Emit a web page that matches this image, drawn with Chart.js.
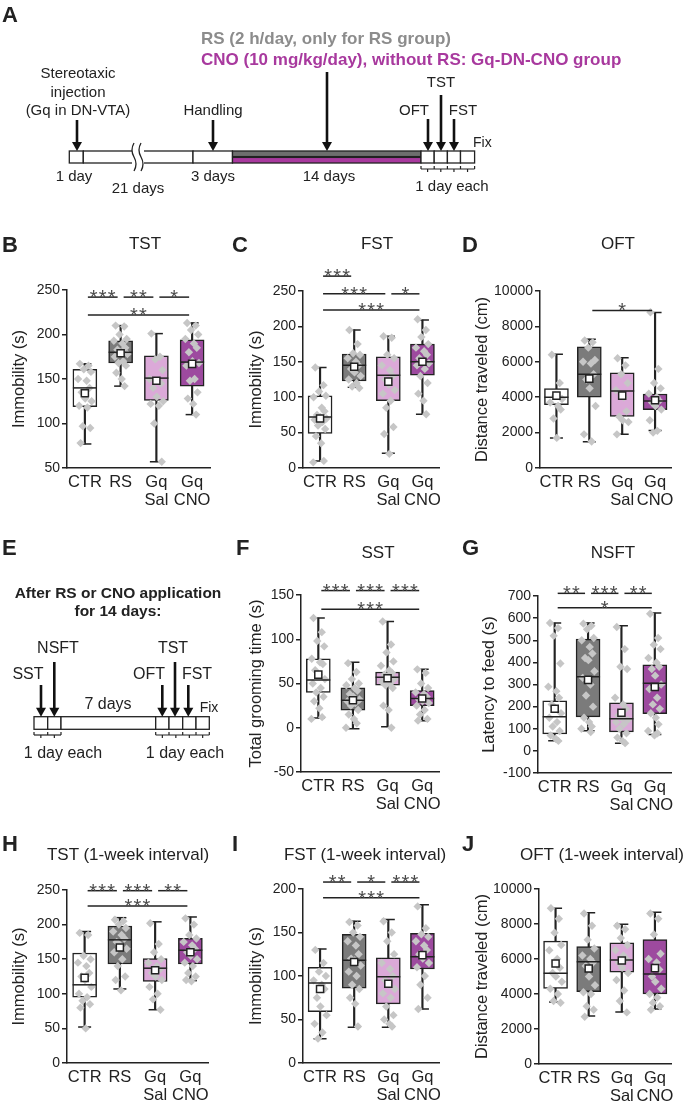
<!DOCTYPE html>
<html>
<head>
<meta charset="utf-8">
<script src="https://cdn.jsdelivr.net/npm/chart.js@4.4.1/dist/chart.umd.min.js"></script>
<style>
  body { margin: 0; background: #fff; }
  #page { position: relative; width: 685px; height: 1107px; overflow: hidden; background: #fff; }
  #page canvas { position: absolute; }
  #sch { position: absolute; left: 0; top: 0; pointer-events: none; }
</style>
</head>
<body>
<div id="page"></div>
<script>
// ---- data ----
const groups = ['CTR', 'RS', ['Gq', 'Sal'], ['Gq', 'CNO']];

// B: TST
const tstMin = [77, 142, 57, 110];
const tstQ1 = [119, 168, 126, 142];
const tstMed = [140, 180, 151, 169];
const tstQ3 = [161, 193, 176, 194];
const tstMax = [167, 210, 201, 213];
const tstMean = [134, 179, 148, 167];
const tstPts = [
  [167, 165, 161, 158, 150, 148, 140, 135, 128, 125, 120, 118, 97, 95, 78],
  [210, 209, 200, 195, 193, 190, 185, 183, 180, 178, 175, 170, 168, 165, 157, 150, 142],
  [201, 175, 172, 160, 150, 148, 145, 140, 130, 125, 122, 120, 100, 57],
  [213, 210, 205, 200, 195, 190, 185, 180, 170, 168, 165, 150, 148, 135, 128, 122, 110],
];
const tstSig = [[0, 1, 242, '***'], [1, 2, 242, '**'], [2, 3, 242, '*'], [0, 3, 222, '**']];

// C: FST
const fstMin = [10, 114, 21, 76];
const fstQ1 = [49, 123, 95, 131];
const fstMed = [72, 145, 131, 150];
const fstQ3 = [102, 161, 157, 175];
const fstMax = [142, 195, 186, 209];
const fstMean = [70, 143, 122, 150];
const fstPts = [
  [142, 117, 108, 102, 100, 85, 80, 75, 72, 70, 68, 65, 60, 55, 45, 35, 10, 8],
  [195, 175, 162, 160, 155, 150, 145, 140, 135, 130, 125, 120, 115, 113],
  [186, 184, 160, 155, 145, 138, 130, 125, 118, 110, 105, 95, 85, 58, 48, 20],
  [210, 195, 185, 175, 170, 165, 160, 155, 150, 148, 145, 140, 130, 120, 105, 95, 76],
];
const fstSig = [[0, 1, 271, '***'], [0, 2, 246, '***'], [2, 3, 246, '*'], [0, 3, 223, '***']];

// D: OFT
const oftMin = [1690, 1480, 1910, 2120];
const oftQ1 = [3580, 4000, 2910, 3300];
const oftMed = [4000, 5290, 4350, 3790];
const oftQ3 = [4480, 6850, 5370, 4180];
const oftMax = [6420, 7280, 6230, 8780];
const oftMean = [4090, 5050, 4090, 3830];
const oftPts = [
  [6400, 4800, 4100, 3900, 3700, 3500, 3300, 2800, 1700],
  [7200, 7100, 6800, 6100, 6000, 5900, 5300, 5000, 4500, 3500, 1900, 1500],
  [6200, 5800, 5300, 4800, 4400, 4000, 3200, 2900, 2700, 2600, 1900],
  [8800, 5600, 4800, 4500, 4200, 4000, 3800, 3700, 3500, 3300, 2700, 2100, 2000],
];
const oftSig = [[1, 3, 8900, '*']];

// F: SST
const sstMin = [11, -1, 1, 8];
const sstQ1 = [40, 20, 48, 25];
const sstMed = [54, 31, 57, 33];
const sstQ3 = [78, 45, 63, 42];
const sstMax = [124, 74, 120, 66];
const sstMean = [60, 31, 56, 33];
const sstPts = [
  [124, 108, 98, 92, 78, 74, 72, 65, 60, 55, 50, 45, 40, 35, 30, 22, 12, 10],
  [73, 63, 55, 50, 48, 45, 42, 38, 35, 32, 30, 28, 25, 20, 15, 10, 5, 0],
  [120, 94, 85, 75, 70, 65, 62, 60, 58, 55, 52, 50, 48, 45, 25, 20, 0],
  [66, 62, 50, 45, 40, 38, 35, 32, 30, 28, 25, 20, 15, 10, 8],
];
const sstSig = [[0, 1, 155, '***'], [1, 2, 155, '***'], [2, 3, 155, '***'], [0, 3, 134, '***']];

// G: NSFT
const nsftMin = [46, 91, 35, 74];
const nsftQ1 = [77, 154, 86, 168];
const nsftMed = [154, 335, 145, 306];
const nsftQ3 = [226, 505, 217, 389];
const nsftMax = [578, 578, 566, 623];
const nsftMean = [190, 321, 172, 289];
const nsftPts = [
  [578, 555, 520, 395, 290, 270, 240, 210, 195, 170, 150, 130, 110, 90, 70, 55, 45],
  [575, 565, 550, 510, 500, 470, 440, 420, 410, 360, 330, 300, 250, 200, 150, 130, 110, 100, 85],
  [560, 460, 380, 370, 240, 210, 190, 160, 150, 140, 130, 120, 100, 80, 60, 45, 35],
  [620, 510, 480, 460, 420, 400, 380, 370, 340, 300, 280, 240, 210, 190, 170, 150, 120, 90, 80, 70],
];
const nsftSig = [[0, 1, 712, '**'], [1, 2, 712, '***'], [2, 3, 712, '**'], [0, 3, 647, '*']];

// H: TST (1-week interval)
const tst2Min = [52, 107, 77, 119];
const tst2Q1 = [95, 143, 118, 143];
const tst2Med = [113, 178, 137, 163];
const tst2Q3 = [159, 198, 151, 180];
const tst2Max = [190, 210, 204, 211];
const tst2Mean = [123, 167, 134, 160];
const tst2Pts = [
  [188, 185, 155, 150, 145, 140, 130, 125, 120, 110, 100, 95, 90, 85, 80, 50],
  [207, 205, 200, 195, 190, 185, 180, 175, 170, 165, 160, 150, 140, 125, 120, 105],
  [202, 172, 160, 150, 145, 140, 135, 130, 125, 120, 110, 100, 92, 77],
  [209, 200, 185, 180, 175, 170, 165, 160, 155, 150, 145, 140, 130, 125, 120, 118],
];
const tst2Sig = [[0, 1, 249, '***'], [1, 2, 249, '***'], [2, 3, 249, '**'], [0, 3, 227, '***']];

// I: FST (1-week interval)
const fst2Min = [28, 41, 41, 62];
const fst2Q1 = [59, 86, 68, 108];
const fst2Med = [92, 118, 99, 122];
const fst2Q3 = [110, 148, 121, 149];
const fst2Max = [131, 163, 165, 182];
const fst2Mean = [85, 116, 91, 124];
const fst2Pts = [
  [130, 115, 105, 100, 95, 90, 85, 75, 65, 55, 45, 35, 28],
  [162, 158, 150, 145, 140, 135, 125, 120, 118, 112, 105, 100, 90, 85, 75, 68, 42],
  [163, 150, 140, 125, 115, 108, 100, 95, 90, 85, 80, 75, 65, 55, 50, 45, 42],
  [180, 155, 148, 145, 140, 135, 130, 125, 120, 115, 110, 100, 90, 75, 62],
];
const fst2Sig = [[0, 1, 208, '**'], [1, 2, 208, '*'], [2, 3, 208, '***'], [0, 3, 190, '***']];

// J: OFT (1-week interval)
const oft2Min = [3550, 2740, 2970, 3140];
const oft2Q1 = [4320, 4140, 5250, 4010];
const oft2Med = [5190, 5840, 5950, 5150];
const oft2Q3 = [7020, 6710, 6920, 7110];
const oft2Max = [8900, 8650, 7980, 8670];
const oft2Mean = [5740, 5460, 5910, 5480];
const oft2Pts = [
  [8900, 8300, 7500, 6800, 6500, 6000, 5500, 5200, 5000, 4700, 4300, 4000, 3600, 3500],
  [8600, 7900, 7100, 6600, 6200, 6000, 5800, 5600, 5000, 4500, 4100, 4000, 3300, 3100, 2700],
  [7900, 7700, 7200, 6800, 6500, 6200, 6000, 5800, 5500, 5200, 4800, 4200, 3600, 2950],
  [8600, 8300, 7400, 6300, 6000, 5800, 5400, 5000, 4700, 4300, 4000, 3800, 3500, 3300, 3100],
];
const oft2Sig = [];

// ---- styling ----
const FONT = "'Liberation Sans', Arial, sans-serif";
const INK = '#222';
const boxColors = ['#ffffff', '#7b7b7b', '#dba9d8', '#9d4a9f'];
// horizontal spread of the dots around each box (fraction of a category)
const JIT = [-0.14, 0.1, -0.03, 0.17, -0.19, 0.05, 0.13, -0.09, 0.01, 0.19, -0.16, 0.07, -0.06, 0.15, -0.12, 0.03, 0.11, -0.2, 0.08, -0.01];

Chart.defaults.font.family = FONT;
Chart.defaults.color = INK;

const page = document.getElementById('page');

// significance bars + stars, placed with the chart's own scales
const sigPlugin = {
  id: 'sig',
  afterDraw(chart, args, opts) {
    const { ctx, scales: { x, y } } = chart;
    ctx.save();
    ctx.strokeStyle = INK;
    ctx.lineWidth = 1.5;
    ctx.fillStyle = '#4a4a4a';
    ctx.font = '20px ' + FONT;
    ctx.textAlign = 'center';
    ctx.textBaseline = 'alphabetic';
    (opts.marks || []).forEach(([a, b, lvl, stars]) => {
      const x1 = x.getPixelForValue(a) + 3;
      const x2 = x.getPixelForValue(b) - 3;
      const yy = y.getPixelForValue(lvl);
      ctx.beginPath();
      ctx.moveTo(x1, yy);
      ctx.lineTo(x2, yy);
      ctx.stroke();
      const cx = (x1 + x2) / 2;
      for (let i = 0; i < stars.length; i++) {
        ctx.fillText('*', cx + (i - (stars.length - 1) / 2) * 9, yy + 7);
      }
    });
    ctx.restore();
  },
};

const boxChart = (c) => {
  const [L0, T0, W, H] = c.box;
  const [aL, aT, aR, aB] = c.area;
  const cv = document.createElement('canvas');
  cv.width = W;
  cv.height = H;
  cv.style.left = L0 + 'px';
  cv.style.top = T0 + 'px';
  page.appendChild(cv);

  const at = (arr) => arr.map((v, g) => ({ x: g, y: v }));
  const dots = [];
  c.pts.forEach((arr, g) => arr.forEach((v, k) => dots.push({ x: g + JIT[k % JIT.length], y: v })));

  new Chart(cv, {
    type: 'bar',
    data: {
      datasets: [
        {
          // whisker stem
          type: 'bar',
          data: c.min.map((v, g) => ({ x: g, y: [v, c.max[g]] })),
          backgroundColor: INK,
          barThickness: 1.5,
          grouped: false,
          order: 6,
        },
        {
          // whisker caps
          type: 'scatter',
          data: [...at(c.min), ...at(c.max)],
          pointStyle: 'line',
          pointRadius: 6.5,
          pointBorderColor: INK,
          pointBorderWidth: 1.5,
          order: 5,
        },
        {
          // boxes
          type: 'bar',
          data: c.q1.map((v, g) => ({ x: g, y: [v, c.q3[g]] })),
          backgroundColor: boxColors,
          borderColor: INK,
          borderWidth: 1.5,
          borderSkipped: false,
          barThickness: 24,
          grouped: false,
          order: 4,
        },
        {
          // individual animals
          type: 'scatter',
          data: dots,
          pointStyle: 'rectRot',
          pointRadius: 4.2,
          pointBackgroundColor: '#c6c6c6',
          pointBorderWidth: 0,
          order: 3,
        },
        {
          // median
          type: 'scatter',
          data: at(c.med),
          pointStyle: 'line',
          pointRadius: 12,
          pointBorderColor: INK,
          pointBorderWidth: 1.5,
          order: 2,
        },
        {
          // mean
          type: 'scatter',
          data: at(c.mean),
          pointStyle: 'rect',
          pointRadius: 5,
          pointBackgroundColor: '#fff',
          pointBorderColor: INK,
          pointBorderWidth: 1.5,
          order: 1,
        },
      ],
    },
    options: {
      responsive: false,
      animation: false,
      events: [],
      layout: { padding: { top: aT - T0, right: L0 + W - aR, left: 0, bottom: 0 } },
      plugins: {
        legend: { display: false },
        tooltip: { enabled: false },
        sig: { marks: c.sig },
      },
      scales: {
        x: {
          type: 'linear',
          min: -0.5,
          max: 3.5,
          offset: false,
          grid: { display: false, drawTicks: false },
          border: { color: INK, width: 1.5 },
          afterBuildTicks: (s) => {
            s.ticks = groups.map((g, i) => ({ value: i }));
          },
          afterFit: (s) => {
            s.height = T0 + H - aB;
          },
          ticks: {
            callback: (v) => groups[v],
            font: { size: 16.5, lineHeight: 1.1 },
            color: INK,
            padding: 5,
            maxRotation: 0,
            autoSkip: false,
          },
        },
        y: {
          min: c.yMin,
          max: c.yMax,
          grid: { drawOnChartArea: false, tickLength: 5, color: INK, lineWidth: 1.5 },
          border: { color: INK, width: 1.5 },
          ticks: {
            stepSize: c.step,
            callback: (v) => String(v),
            font: { size: 14 },
            color: INK,
            padding: 2,
          },
          title: {
            display: true,
            text: c.yTitle,
            font: { size: 16.5 },
            color: INK,
            padding: { top: c.titleX - L0 - 9.9, bottom: 0 },
          },
          afterFit: (s) => {
            s.width = aL - L0;
          },
        },
      },
    },
    plugins: [sigPlugin],
  });
};

// ---- box plots ----
boxChart({ box: [0, 250, 225, 258], area: [67, 290, 210, 468], titleX: 19,
  yMin: 50, yMax: 250, step: 50, yTitle: 'Immobility (s)',
  min: tstMin, q1: tstQ1, med: tstMed, q3: tstQ3, max: tstMax, mean: tstMean, pts: tstPts, sig: tstSig });
boxChart({ box: [228, 250, 225, 258], area: [303, 291, 445, 468], titleX: 256,
  yMin: 0, yMax: 250, step: 50, yTitle: 'Immobility (s)',
  min: fstMin, q1: fstQ1, med: fstMed, q3: fstQ3, max: fstMax, mean: fstMean, pts: fstPts, sig: fstSig });
boxChart({ box: [455, 250, 230, 258], area: [540, 291, 683, 468], titleX: 482,
  yMin: 0, yMax: 10000, step: 2000, yTitle: 'Distance traveled (cm)',
  min: oftMin, q1: oftQ1, med: oftMed, q3: oftQ3, max: oftMax, mean: oftMean, pts: oftPts, sig: oftSig });

boxChart({ box: [228, 572, 225, 248], area: [301, 595, 444, 772], titleX: 256,
  yMin: -50, yMax: 150, step: 50, yTitle: 'Total grooming time (s)',
  min: sstMin, q1: sstQ1, med: sstMed, q3: sstQ3, max: sstMax, mean: sstMean, pts: sstPts, sig: sstSig });
boxChart({ box: [455, 572, 230, 248], area: [538, 596, 683, 773], titleX: 489,
  yMin: -100, yMax: 700, step: 100, yTitle: 'Latency to feed (s)',
  min: nsftMin, q1: nsftQ1, med: nsftMed, q3: nsftQ3, max: nsftMax, mean: nsftMean, pts: nsftPts, sig: nsftSig });

boxChart({ box: [0, 865, 225, 242], area: [67, 890, 208, 1063], titleX: 19,
  yMin: 0, yMax: 250, step: 50, yTitle: 'Immobility (s)',
  min: tst2Min, q1: tst2Q1, med: tst2Med, q3: tst2Q3, max: tst2Max, mean: tst2Mean, pts: tst2Pts, sig: tst2Sig });
boxChart({ box: [228, 865, 225, 242], area: [303, 889, 445, 1063], titleX: 256,
  yMin: 0, yMax: 200, step: 50, yTitle: 'Immobility (s)',
  min: fst2Min, q1: fst2Q1, med: fst2Med, q3: fst2Q3, max: fst2Max, mean: fst2Mean, pts: fst2Pts, sig: fst2Sig });
boxChart({ box: [455, 865, 230, 242], area: [539, 889, 683, 1064], titleX: 482,
  yMin: 0, yMax: 10000, step: 2000, yTitle: 'Distance traveled (cm)',
  min: oft2Min, q1: oft2Q1, med: oft2Med, q3: oft2Q3, max: oft2Max, mean: oft2Mean, pts: oft2Pts, sig: oft2Sig });

// ---- schematics, panel letters and titles (svg) ----
const S = [];
const txt = (x, y, s, size, o = {}) => S.push(
  `<text x="${x}" y="${y}" font-size="${size}" text-anchor="${o.anchor || 'middle'}" font-weight="${o.bold ? 'bold' : 'normal'}" fill="${o.fill || INK}">${s}</text>`);
const rect = (x1, y1, x2, y2, fill) => S.push(
  `<rect x="${x1}" y="${y1}" width="${x2 - x1}" height="${y2 - y1}" fill="${fill || '#fff'}" stroke="${INK}" stroke-width="1.3"/>`);
const line = (x1, y1, x2, y2, w) => S.push(
  `<line x1="${x1}" y1="${y1}" x2="${x2}" y2="${y2}" stroke="${INK}" stroke-width="${w || 1.2}"/>`);
const arrow = (x, y1, y2) => S.push(
  `<line x1="${x}" y1="${y1}" x2="${x}" y2="${y2 - 8}" stroke="#111" stroke-width="2.6"/>` +
  `<polygon points="${x - 5},${y2 - 9} ${x + 5},${y2 - 9} ${x},${y2}" fill="#111"/>`);
const brace = (xs, y) => {
  line(xs[0], y, xs[xs.length - 1], y);
  xs.forEach((v) => line(v, y - 3, v, y));
  for (let i = 0; i < xs.length - 1; i++) line((xs[i] + xs[i + 1]) / 2, y, (xs[i] + xs[i + 1]) / 2, y + 3);
};

// panel letters
[['A', 2, 22], ['B', 2, 252], ['C', 232, 252], ['D', 462, 252], ['E', 2, 555], ['F', 236, 555],
 ['G', 462, 555], ['H', 2, 851], ['I', 232, 851], ['J', 462, 851]]
  .forEach(([s, x, y]) => txt(x, y, s, 22, { anchor: 'start', bold: true }));

// panel titles
[['TST', 145, 249], ['FST', 377, 249], ['OFT', 618, 249], ['SST', 378, 558], ['NSFT', 613, 558],
 ['TST (1-week interval)', 128, 860], ['FST (1-week interval)', 365, 860], ['OFT (1-week interval)', 602, 860]]
  .forEach(([s, x, y]) => txt(x, y, s, 17));

// A: timeline
txt(201, 44, 'RS (2 h/day, only for RS group)', 17, { anchor: 'start', bold: true, fill: '#8c8c8c' });
txt(201, 65, 'CNO (10 mg/kg/day), without RS: Gq-DN-CNO group', 17, { anchor: 'start', bold: true, fill: '#a8399e' });
txt(78, 78, 'Stereotaxic', 15);
txt(78, 97, 'injection', 15);
txt(78, 115, '(Gq in DN-VTA)', 15);
txt(213, 115, 'Handling', 15);
txt(441, 87, 'TST', 15);
txt(414, 115, 'OFT', 15);
txt(463, 115, 'FST', 15);
txt(473, 147, 'Fix', 14, { anchor: 'start' });
rect(69.3, 151, 83.3, 163);
rect(83.3, 151, 193, 163);
rect(193, 151, 232.5, 163);
rect(232.5, 151, 421, 156.6, '#6e6e6e');
rect(232.5, 157.4, 421, 163, '#a8399e');
[421, 434.2, 447.4, 460.5].forEach((v, i, a) => rect(v, 151, i < 3 ? a[i + 1] : 474.6, 163));
S.push('<rect x="132" y="148" width="12" height="18" fill="#fff"/>');
S.push(`<path d="M134 143 q -4 7 0 14 t 0 14 M141 143 q -4 7 0 14 t 0 14" fill="none" stroke="${INK}" stroke-width="1.3"/>`);
arrow(77, 120, 151);
arrow(213, 120, 151);
arrow(327, 72, 151);
arrow(428, 119, 151);
arrow(441, 95, 151);
arrow(454, 119, 151);
brace([421, 434.2, 447.4, 460.5, 474.6], 169);
txt(74, 181, '1 day', 15);
txt(138, 193, '21 days', 15);
txt(213, 181, '3 days', 15);
txt(329, 181, '14 days', 15);
txt(452, 191, '1 day each', 15);

// E: timeline
txt(118, 598, 'After RS or CNO application', 15.5, { bold: true });
txt(118, 616, 'for 14 days:', 15.5, { bold: true });
txt(58, 653, 'NSFT', 16);
txt(28, 679, 'SST', 16);
txt(108, 709, '7 days', 16);
txt(149, 679, 'OFT', 16);
txt(173, 653, 'TST', 16);
txt(197, 679, 'FST', 16);
txt(209, 712, 'Fix', 14);
rect(34, 716.7, 47.7, 729.3);
rect(47.7, 716.7, 61, 729.3);
rect(61, 716.7, 155.7, 729.3);
[155.7, 169, 182.7, 196].forEach((v, i, a) => rect(v, 716.7, i < 3 ? a[i + 1] : 209.3, 729.3));
arrow(41, 685, 716.7);
arrow(54.3, 662, 716.7);
arrow(162.3, 685, 716.7);
arrow(175, 662, 716.7);
arrow(188.3, 685, 716.7);
brace([34, 47.7, 61], 735);
brace([155.7, 169, 182.7, 196, 209.3], 735);
txt(63, 758, '1 day each', 16);
txt(185, 758, '1 day each', 16);

page.insertAdjacentHTML('beforeend',
  `<svg id="sch" width="685" height="1107" font-family="${FONT.replace(/"/g, '')}">${S.join('')}</svg>`);
</script>
</body>
</html>
